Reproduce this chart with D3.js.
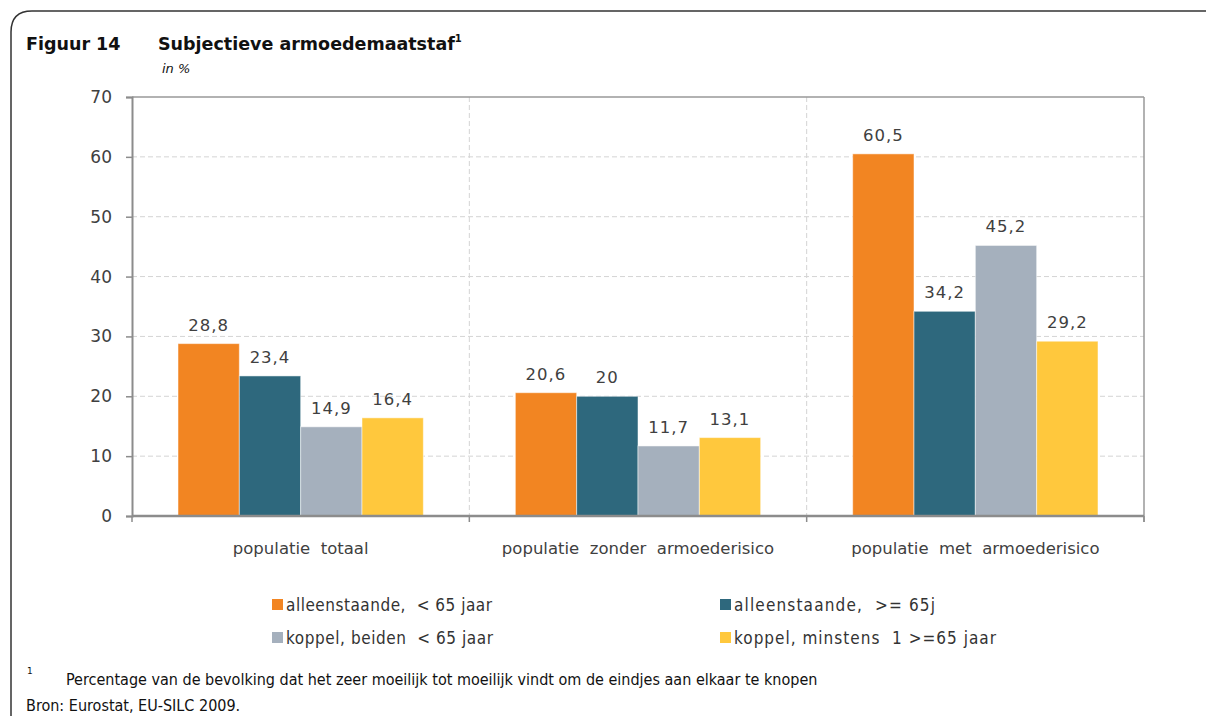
<!DOCTYPE html>
<html>
<head>
<meta charset="utf-8">
<script src="https://cdn.jsdelivr.net/npm/d3@7"></script>
<style>
  body { margin: 0; background: #fff; }
  text { font-family: "DejaVu Sans", sans-serif; fill: #404040; }
  .narrow { font-family: "Liberation Sans Narrow", "DejaVu Sans Condensed", sans-serif; font-stretch: condensed; fill: #222; }
</style>
</head>
<body>
<div id="g1"></div>
<script>
// data
var categories = ["populatie  totaal", "populatie  zonder  armoederisico", "populatie  met  armoederisico"];
var series = ["alleenstaande,  < 65 jaar", "alleenstaande,  >= 65j", "koppel, beiden  < 65 jaar", "koppel, minstens  1 >=65 jaar"];
var alleenJong = [28.8, 20.6, 60.5];
var alleenOud = [23.4, 20, 34.2];
var koppelJong = [14.9, 11.7, 45.2];
var koppelOud = [16.4, 13.1, 29.2];
var yTicks = [0, 10, 20, 30, 40, 50, 60, 70];
var colors = ["#F28522", "#2E687D", "#A5B0BD", "#FFC83D"];

var values = [alleenJong, alleenOud, koppelJong, koppelOud];

var w = 1206, h = 723;
var svg = d3.select("#g1").append("svg").attr("width", w).attr("height", h);

// outer frame (open on the right)
svg.append("path")
  .attr("d", "M1206,11 L32,11 Q11,11 11,32 L11,716")
  .style("fill", "none").style("stroke", "#333").style("stroke-width", 1.5);

// title
svg.append("text").attr("x", 26).attr("y", 50).style("font-weight", "bold").style("font-size", "17.5px").style("fill", "#111").text("Figuur 14");
var t = svg.append("text").attr("x", 158).attr("y", 50).style("font-weight", "bold").style("font-size", "17.5px").style("fill", "#111");
t.append("tspan").text("Subjectieve armoedemaatstaf");
t.append("tspan").attr("dy", -8).style("font-size", "10px").text("1");
svg.append("text").attr("x", 162).attr("y", 73).style("font-style", "italic").style("font-size", "13px").style("fill", "#111").text("in %");

var left = 132, right = 1144, plotTop = 97, bottom = 516;

var x0 = d3.scaleBand().domain(categories).range([left, right]).padding(0);
var x1 = d3.scaleBand().domain(d3.range(series.length)).range([0, x0.bandwidth()]).paddingInner(0).paddingOuter(0.75);
var y = d3.scaleLinear().domain([0, 70]).range([bottom, plotTop]);

// grid
svg.append("g").selectAll("line").data(yTicks.filter(function(d){ return d > 0 && d < 70; }))
  .enter().append("line")
  .attr("x1", left).attr("x2", right)
  .attr("y1", function(d){ return y(d); }).attr("y2", function(d){ return y(d); })
  .style("stroke", "#d4d4d4").style("stroke-dasharray", "5,3");

// category separators
svg.append("g").selectAll("line").data(categories.slice(1))
  .enter().append("line")
  .attr("x1", function(d){ return x0(d); }).attr("x2", function(d){ return x0(d); })
  .attr("y1", plotTop).attr("y2", bottom)
  .style("stroke", "#d4d4d4").style("stroke-dasharray", "5,3");

// plot frame top/right
svg.append("line").attr("x1", left).attr("x2", right).attr("y1", y(70)).attr("y2", y(70)).style("stroke", "#999").style("stroke-width", 1.5);
svg.append("line").attr("x1", right).attr("x2", right).attr("y1", y(70)).attr("y2", bottom + 6).style("stroke", "#999").style("stroke-width", 1.5);

// bars
var groups = svg.append("g").selectAll("g").data(categories).enter().append("g")
  .attr("transform", function(d){ return "translate(" + x0(d) + ",0)"; });

groups.selectAll("rect")
  .data(function(d, i){ return values.map(function(v, s){ return {s: s, v: v[i]}; }); })
  .enter().append("rect")
  .attr("x", function(d){ return x1(d.s); })
  .attr("y", function(d){ return y(d.v); })
  .attr("width", x1.bandwidth())
  .attr("height", function(d){ return y(0) - y(d.v); })
  .style("fill", function(d){ return colors[d.s]; })
  .style("stroke", "#fff").style("stroke-opacity", 0.5).style("stroke-width", 1);

groups.selectAll("text.val")
  .data(function(d, i){ return values.map(function(v, s){ return {s: s, v: v[i]}; }); })
  .enter().append("text").attr("class", "val")
  .attr("x", function(d){ return x1(d.s) + x1.bandwidth() / 2; })
  .attr("y", function(d){ return y(d.v) - 13; })
  .attr("text-anchor", "middle")
  .style("font-size", "16.5px").style("letter-spacing", "1px")
  .text(function(d){ return String(d.v).replace(".", ","); });

// y axis
var yAxis = d3.axisLeft(y).tickValues(yTicks).tickSize(6).tickPadding(14);
var gy = svg.append("g").attr("transform", "translate(" + left + ",0)").call(yAxis);
gy.select(".domain").style("stroke", "#8c8c8c").style("stroke-width", 2);
gy.selectAll(".tick line").style("stroke", "#8c8c8c").style("stroke-width", 1.5);
gy.selectAll(".tick text").style("font-size", "17px").style("fill", "#404040").style("font-family", "DejaVu Sans, sans-serif");

// x axis
svg.append("line").attr("x1", left).attr("x2", right).attr("y1", bottom).attr("y2", bottom).style("stroke", "#8c8c8c").style("stroke-width", 2.5);
svg.append("g").selectAll("line").data(categories.concat(["end"]))
  .enter().append("line")
  .attr("x1", function(d){ return d === "end" ? right : x0(d); })
  .attr("x2", function(d){ return d === "end" ? right : x0(d); })
  .attr("y1", bottom).attr("y2", bottom + 6)
  .style("stroke", "#8c8c8c").style("stroke-width", 1.5);

svg.append("g").selectAll("text").data(categories).enter().append("text")
  .attr("x", function(d){ return x0(d) + x0.bandwidth() / 2; })
  .attr("y", 554)
  .attr("text-anchor", "middle")
  .style("font-size", "16.5px")
  .attr("xml:space", "preserve")
  .text(function(d){ return d; });

// legend
var legendPos = [[272, 605], [720, 605], [272, 638], [720, 638]];
var legendLen = [206, 201, 207, 262];
var lg = svg.append("g").selectAll("g").data(series).enter().append("g")
  .attr("transform", function(d, i){ return "translate(" + legendPos[i][0] + "," + legendPos[i][1] + ")"; });
lg.append("rect").attr("x", 0).attr("y", -6).attr("width", 11).attr("height", 11)
  .style("fill", function(d, i){ return colors[i]; });
lg.append("text").attr("class", "narrow").attr("x", 14).attr("y", 6)
  .attr("xml:space", "preserve")
  .attr("textLength", function(d, i){ return legendLen[i]; })
  .attr("lengthAdjust", "spacing")
  .style("font-size", "17px").style("fill", "#333")
  .text(function(d){ return d; });

// footnotes
svg.append("text").attr("x", 27).attr("y", 674).style("font-size", "9px").style("fill", "#111").text("1");
svg.append("text").attr("class", "narrow").attr("x", 66).attr("y", 685).style("font-size", "16px").style("fill", "#111")
  .text("Percentage van de bevolking dat het zeer moeilijk tot moeilijk vindt om de eindjes aan elkaar te knopen");
svg.append("text").attr("class", "narrow").attr("x", 26).attr("y", 711).style("font-size", "16px").style("fill", "#111")
  .text("Bron: Eurostat, EU-SILC 2009.");
</script>
</body>
</html>
